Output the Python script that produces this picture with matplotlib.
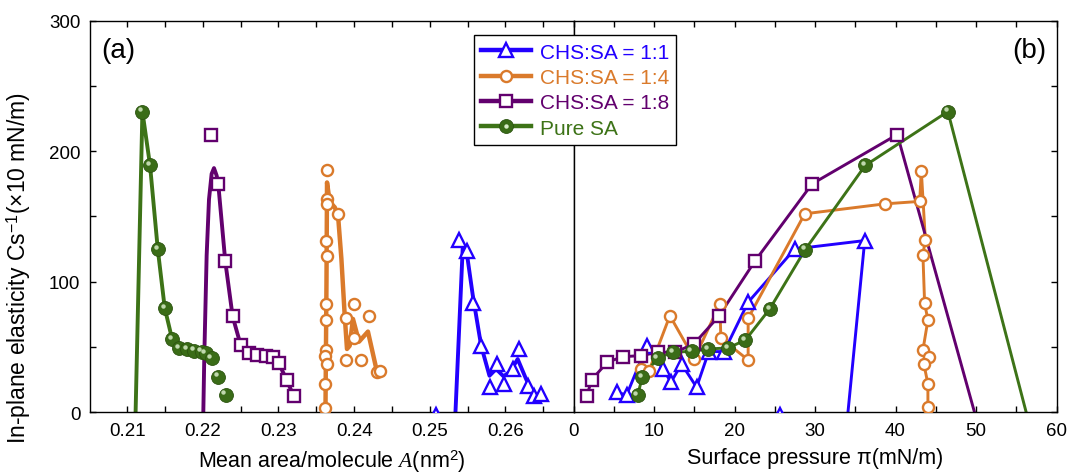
import numpy as np
import matplotlib
matplotlib.use('Agg')
import matplotlib.pyplot as plt
from matplotlib.ticker import MultipleLocator
from matplotlib.transforms import offset_copy
from matplotlib.lines import Line2D
from matplotlib.legend_handler import HandlerTuple

plt.rcParams['font.family'] = ['Liberation Sans', 'DejaVu Sans']
plt.rcParams['mathtext.fontset'] = 'custom'
plt.rcParams['mathtext.rm'] = 'Liberation Sans'
plt.rcParams['mathtext.it'] = 'Liberation Serif:italic'

labels = ['CHS:SA = 1:1', 'CHS:SA = 1:4', 'CHS:SA = 1:8', 'Pure SA']
colors = ['#2200ff', '#da7a2b', '#62006e', '#3d7317']

# (a) Cs^-1 vs mean molecular area -- measured points
area_11 = [0.25384, 0.25489, 0.25578, 0.25679, 0.25885, 0.25798, 0.25987, 0.26096, 0.26185, 0.26294, 0.26383, 0.26471]
cs_11_a = [132.3, 123.8, 83.8, 50.6, 37.0, 19.2, 21.7, 33.2, 48.5, 20.4, 12.7, 14.0]
area_14 = [0.23642, 0.23642, 0.23642, 0.23793, 0.23635, 0.23642, 0.23635, 0.23635, 0.23995, 0.23889, 0.24197,
           0.23995, 0.23635, 0.23616, 0.23642, 0.23898, 0.24091, 0.24302, 0.24338, 0.23616, 0.23616]
cs_14_a = [185.7, 163.4, 159.6, 152.0, 131.0, 120.0, 83.0, 70.7, 83.0, 72.0, 74.0,
           56.7, 48.0, 42.9, 37.0, 40.3, 40.3, 31.1, 31.9, 21.7, 3.1]
area_18 = [0.22104, 0.22204, 0.22297, 0.22394, 0.22500, 0.22609, 0.22719, 0.22830, 0.22922, 0.23001, 0.23107, 0.23199]
cs_18_a = [212.7, 175.2, 115.7, 73.6, 51.6, 45.2, 44.1, 43.4, 42.4, 38.0, 25.0, 12.7]
area_sa = [0.21202, 0.21303, 0.21405, 0.21497, 0.21594, 0.21690, 0.21788, 0.21884, 0.21985, 0.22038, 0.22117, 0.22201, 0.22302]
cs_sa_a = [230.3, 189.0, 124.9, 79.9, 56.2, 49.0, 48.5, 47.2, 46.4, 45.2, 41.4, 27.3, 13.5]

# (a) smoothed curves
area_11_fit = [0.25332, 0.25437, 0.25482, 0.25569, 0.25679, 0.25789, 0.25877, 0.25974, 0.26062, 0.26162, 0.26273, 0.26383]
cs_11_fit = [-10, 127.7, 125.0, 89.4, 51.0, 28.0, 33.2, 27.6, 31.1, 40.8, 25.5, 12.7]
area_14_fit = [0.23620, 0.23635, 0.23642, 0.23678, 0.23744, 0.23788, 0.23832, 0.23876, 0.23906, 0.23942, 0.23985, 0.24065, 0.24183, 0.24294]
cs_14_fit = [-10, 100, 176, 161, 157, 150.6, 117.5, 74, 48.5, 51, 71.5, 54.1, 61.8, 33.2]
area_18_fit = [0.22004, 0.22020, 0.22051, 0.22082, 0.22117, 0.22148, 0.22183] + area_18[1:]
cs_18_fit = [-10, 43, 120, 163, 182.6, 187, 181.3] + cs_18_a[1:]
area_sa_fit = [0.21108] + area_sa[:11]
cs_sa_fit = [-10] + cs_sa_a[:11]

# (b) Cs^-1 vs surface pressure
pi_11 = [5.36, 6.60, 9.08, 11.14, 12.10, 13.42, 15.29, 16.8, 18.7, 21.69, 27.48, 36.17]
cs_11_p = [15.3, 13.3, 50.6, 33.2, 23.0, 37.0, 19.2, 46.5, 46.5, 84.3, 125.1, 131.5]
pi_14 = [8.33, 9.39, 11.97, 15.0, 18.18, 18.30, 21.69, 21.69, 28.72, 38.65, 43.0,
         43.2, 43.7, 43.4, 43.61, 44.02, 43.4, 44.14, 43.52, 44.02, 44.02]
cs_14_p = [33.3, 32.0, 74.0, 41.0, 83.0, 56.7, 40.1, 72.0, 152.0, 159.6, 161.5,
           185.1, 132.3, 120.5, 83.5, 70.7, 47.7, 42.1, 37.0, 21.7, 3.8]
pi_18 = [1.64, 2.26, 4.19, 6.10, 8.37, 10.52, 12.59, 14.95, 18.05, 22.52, 29.63, 40.22]
cs_18_p = [12.3, 25.0, 38.3, 42.6, 43.4, 46.0, 46.0, 52.3, 73.6, 115.7, 174.9, 212.7]
pi_sa = [7.97, 8.54, 10.45, 12.38, 14.66, 16.69, 19.21, 21.36, 24.38, 28.78, 36.23, 46.50]
cs_sa_p = [13.3, 26.8, 41.6, 46.0, 46.7, 48.5, 49.3, 55.4, 79.2, 124.6, 189.0, 230.3]
# collapse segment end (pi, Cs) for each series after the last point
collapse_11 = (33.93, -10)
collapse_18 = (50.26, -10)
collapse_sa = (56.65, -10)

# stray 1:1 points sitting just under the axis
stray_area, stray_pi, stray_cs = 0.25086, 25.7, -2

fig = plt.figure(figsize=(10.67, 4.77), dpi=100)
axa = fig.add_axes([0.0844, 0.1335, 0.4531, 0.8214])
axb = fig.add_axes([0.5375, 0.1335, 0.4531, 0.8214], sharey=axa)

mk_open = dict(markerfacecolor='white', markeredgewidth=1.7, linestyle='none')
sph_dark = '#3a6c17'
sph_edge = '#2c5410'


def spheres(ax, x, y, ms=10, zorder=6):
    ax.plot(x, y, 'o', ms=ms, color=sph_dark, markeredgecolor=sph_edge, markeredgewidth=0.6, zorder=zorder)
    tr = offset_copy(ax.transData, fig=fig, x=-1.6, y=1.6, units='points')
    ax.plot(x, y, 'o', ms=3.2, color='#d8ecc8', markeredgewidth=0, alpha=0.85, transform=tr, zorder=zorder + 0.1)


# ---- panel (a)
lw_a = 2.8
axa.plot(area_11_fit, cs_11_fit, color=colors[0], lw=lw_a, zorder=2)
axa.plot(area_11, cs_11_a, marker='^', ms=9.5, color=colors[0], zorder=3, **mk_open)
axa.plot([stray_area], [stray_cs], marker='^', ms=9.5, color=colors[0], zorder=3, **mk_open)
axa.plot(area_14_fit, cs_14_fit, color=colors[1], lw=3.2, zorder=2)
axa.plot(area_14, cs_14_a, marker='o', ms=8, color=colors[1], zorder=3, **mk_open)
axa.plot(area_18_fit, cs_18_fit, color=colors[2], lw=lw_a, zorder=2)
axa.plot(area_18, cs_18_a, marker='s', ms=8, color=colors[2], zorder=4, **mk_open)
axa.plot(area_sa_fit, cs_sa_fit, color=colors[3], lw=lw_a, zorder=2)
spheres(axa, area_sa, cs_sa_a)

# ---- panel (b)
lw_b = 2.1
axb.plot(pi_11 + [collapse_11[0]], cs_11_p + [collapse_11[1]], color=colors[0], lw=lw_b, zorder=2)
axb.plot(pi_11, cs_11_p, marker='^', ms=9.5, color=colors[0], zorder=3, **mk_open)
axb.plot([stray_pi], [stray_cs], marker='^', ms=9.5, color=colors[0], zorder=3, **mk_open)
axb.plot(pi_14, cs_14_p, color=colors[1], lw=lw_b, zorder=2)
axb.plot(pi_14, cs_14_p, marker='o', ms=8, color=colors[1], zorder=3, **mk_open)
axb.plot(pi_18 + [collapse_18[0]], cs_18_p + [collapse_18[1]], color=colors[2], lw=lw_b, zorder=2)
axb.plot(pi_18, cs_18_p, marker='s', ms=8, color=colors[2], zorder=4, **mk_open)
axb.plot(pi_sa + [collapse_sa[0]], cs_sa_p + [collapse_sa[1]], color=colors[3], lw=lw_b, zorder=2)
spheres(axb, pi_sa, cs_sa_p)

# axes styling
axa.set_xlim(0.2051, 0.2690)
axb.set_xlim(0, 60.05)
axa.set_ylim(0, 300)
axa.xaxis.set_major_locator(MultipleLocator(0.01))
axa.xaxis.set_minor_locator(MultipleLocator(0.005))
axa.xaxis.set_major_formatter(plt.FuncFormatter(lambda v, p: '%.2f' % v))
axb.xaxis.set_major_locator(MultipleLocator(10))
axb.xaxis.set_minor_locator(MultipleLocator(5))
axa.yaxis.set_major_locator(MultipleLocator(100))
axa.yaxis.set_minor_locator(MultipleLocator(50))

for ax in (axa, axb):
    for s in ax.spines.values():
        s.set_linewidth(1.0)
    ax.tick_params(which='both', direction='in', length=4, width=1.0, top=True, labelsize=13.5, pad=7)
axa.tick_params(which='both', left=True, right=False)
axb.tick_params(which='both', left=False, right=True, labelleft=False)

axa.set_xlabel('Mean area/molecule $A$(nm$^2$)', fontsize=15.5, labelpad=6)
axb.set_xlabel('Surface pressure π(mN/m)', fontsize=15.5, labelpad=6)
axa.set_ylabel('In-plane elasticity Cs$^{-1}$(×10 mN/m)', fontsize=16.5)
axa.yaxis.set_label_coords(-0.118, 0.372)

axa.text(0.024, 0.925, '(a)', transform=axa.transAxes, fontsize=20, va='center', ha='left')
axb.text(0.979, 0.925, '(b)', transform=axb.transAxes, fontsize=20, va='center', ha='right')

# legend
lw_leg = 3.2
h11 = Line2D([], [], color=colors[0], lw=lw_leg, marker='^', ms=9.5, markerfacecolor='white', markeredgewidth=1.7)
h14 = Line2D([], [], color=colors[1], lw=lw_leg, marker='o', ms=8, markerfacecolor='white', markeredgewidth=1.7)
h18 = Line2D([], [], color=colors[2], lw=lw_leg, marker='s', ms=8, markerfacecolor='white', markeredgewidth=1.7)
hsa = (Line2D([], [], color=colors[3], lw=lw_leg, marker='o', ms=10, markerfacecolor=sph_dark,
              markeredgecolor=sph_edge, markeredgewidth=0.6),
       Line2D([], [], linestyle='none', marker='o', ms=3.2, color='#d8ecc8', markeredgewidth=0))
leg = fig.legend([h11, h14, h18, hsa], labels, loc='upper left', bbox_to_anchor=(0.4443, 0.9235),
                 fontsize=15, frameon=True, fancybox=False, framealpha=1, edgecolor='black',
                 handlelength=2.4, handletextpad=0.4, labelspacing=0.3, borderpad=0.35, borderaxespad=0,
                 handler_map={tuple: HandlerTuple(ndivide=1)})
leg.get_frame().set_linewidth(1.0)
for t, c in zip(leg.get_texts(), colors):
    t.set_color(c)

fig.savefig('out.png', dpi=100)
